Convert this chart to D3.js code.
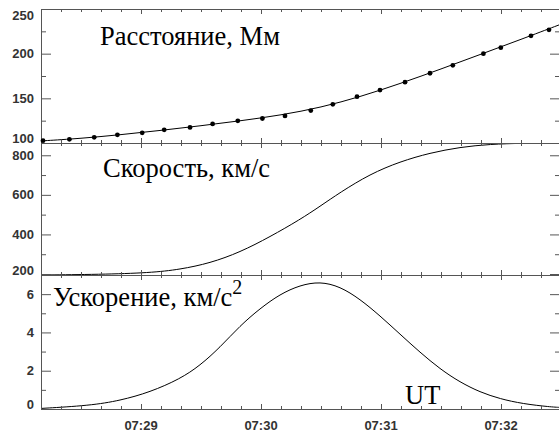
<!DOCTYPE html>
<html>
<head>
<meta charset="utf-8">
<script src="https://cdn.jsdelivr.net/npm/d3@7"></script>
<style>
  body { margin: 0; background: #fff; }
  svg { display: block; }
  .lbl { font-family: "Liberation Sans", Arial, sans-serif; font-size: 13px; font-weight: bold; fill: #333; }
  .ttl { font-family: "Liberation Serif", "Times New Roman", serif; font-size: 26.5px; fill: #000; }
</style>
</head>
<body>
<div id="grafica"></div>
<script>
  const width = 559, height = 437;

  // tiempo en segundos desde las 07:28:00 UT
  const distTimes = [11, 24.2, 36.6, 48.2, 60.6, 71.6, 84.5, 95.8, 108.4, 120.7, 132, 144.9, 155.9, 168, 179.5, 192, 204.5, 215.9, 231.2, 239.9, 255, 264];
  const distValues = [102.6, 104.1, 106.3, 109.2, 111.4, 114.8, 117.4, 121.3, 124.8, 127.4, 130.3, 136.3, 143.3, 151.9, 159.2, 168.1, 178.1, 187, 200, 206.7, 220, 226.7];

  const fitTimes = [10, 30, 50, 70, 90, 110, 130, 150, 170, 190, 210, 230, 250, 270];
  const fitValues = [102.3, 105.1, 109.3, 114.1, 119.3, 124.9, 131.2, 139.8, 152, 166.8, 182.8, 199.4, 216, 233];

  const velTimes = [10, 39.5, 64.5, 79.5, 94.5, 109.5, 124.5, 139.5, 149.5, 159.5, 174.5, 189.5, 204.5, 219.5, 234.5, 251, 270];
  const velValues = [195, 198, 206, 223, 255, 310, 388, 475, 542, 612, 705, 768, 812, 841, 856, 861, 862];

  const accTimes = [10, 34.5, 49.5, 64.5, 79.5, 89.5, 99.5, 109.5, 119.5, 129.5, 139.5, 149.5, 159.5, 169.5, 179.5, 189.5, 199.5, 209.5, 219.5, 229.5, 239.5, 251, 264.5, 270];
  const accValues = [0.03, 0.18, 0.44, 0.88, 1.57, 2.27, 3.22, 4.35, 5.25, 6.0, 6.47, 6.66, 6.4, 5.74, 4.87, 3.91, 2.96, 2.09, 1.40, 0.88, 0.53, 0.27, 0.11, 0.08];

  const distTicks = [100, 150, 200, 250], distMinor = [125, 175, 225];
  const velTicks = [200, 400, 600, 800], velMinor = [300, 500, 700];
  const accTicks = [0, 2, 4, 6], accMinor = [1, 3, 5];

  const BASE = Date.UTC(2000, 0, 1, 7, 28, 0);
  const toDate = s => new Date(BASE + s * 1000);

  const left = 41, right = 560;
  const x = d3.scaleUtc()
    .domain([toDate(10), toDate(269.5)])
    .range([left, right]);

  const svg = d3.select("#grafica")
    .append("svg")
    .attr("width", width)
    .attr("height", height);

  const axisColor = "#555";

  function panel(id, top, bottom, domain, ticks, minor, times, values, curve, showX) {
    const y = d3.scaleLinear().domain(domain).range([bottom, top]);
    const g = svg.append("g").attr("id", id);

    g.append("clipPath").attr("id", "clip-" + id)
      .append("rect")
      .attr("x", left).attr("y", top)
      .attr("width", right - left).attr("height", bottom - top);

    const line = d3.line()
      .x((d, i) => x(toDate(times[i])))
      .y(d => y(d))
      .curve(curve);

    g.append("path")
      .attr("d", line(values))
      .attr("clip-path", `url(#clip-${id})`)
      .attr("fill", "none")
      .attr("stroke", "#000")
      .attr("stroke-width", 1);

    // ejes x arriba y abajo
    const xa = [
      { t: bottom, major: -5, minor: -3 },
      { t: top, major: 5, minor: 3 }
    ];
    xa.forEach(a => {
      g.append("g")
        .attr("transform", `translate(0,${a.t})`)
        .call(d3.axisBottom(x).ticks(d3.utcSecond.every(10)).tickSize(a.minor).tickFormat(""))
        .call(s => s.select(".domain").remove())
        .call(s => s.selectAll("line").attr("stroke", axisColor));
      g.append("g")
        .attr("transform", `translate(0,${a.t})`)
        .call(d3.axisBottom(x).ticks(d3.utcMinute.every(1)).tickSize(a.major).tickFormat(""))
        .call(s => s.select(".domain").remove())
        .call(s => s.selectAll("line").attr("stroke", axisColor));
    });

    // ejes y izquierda y derecha
    [[left, 10, 5], [right, -10, -5]].forEach(([px, mj, mn]) => {
      g.append("g")
        .attr("transform", `translate(${px},0)`)
        .call(d3.axisRight(y).tickValues(ticks).tickSize(mj).tickFormat(""))
        .call(s => s.select(".domain").remove())
        .call(s => s.selectAll("line").attr("stroke", axisColor));
      g.append("g")
        .attr("transform", `translate(${px},0)`)
        .call(d3.axisRight(y).tickValues(minor).tickSize(mn).tickFormat(""))
        .call(s => s.select(".domain").remove())
        .call(s => s.selectAll("line").attr("stroke", axisColor));
    });

    // etiquetas y
    g.selectAll("text.ylab")
      .data(ticks)
      .enter()
      .append("text")
      .attr("class", "lbl ylab")
      .attr("x", 34)
      .attr("y", d => Math.max(top + 6, Math.min(bottom - 5, y(d))))
      .attr("dy", "0.35em")
      .attr("text-anchor", "end")
      .text(d => d);

    // marco
    g.append("rect")
      .attr("x", left + 0.5).attr("y", top + 0.5)
      .attr("width", right - left).attr("height", bottom - top)
      .attr("fill", "none")
      .attr("stroke", axisColor);

    if (showX) {
      g.selectAll("text.xlab")
        .data(x.ticks(d3.utcMinute.every(1)))
        .enter()
        .append("text")
        .attr("class", "lbl xlab")
        .attr("x", d => x(d))
        .attr("y", 425)
        .attr("dy", "0.35em")
        .attr("text-anchor", "middle")
        .text(d => d3.utcFormat("%H:%M")(d));
    }
    return { g, y };
  }

  // Distancia
  const p1 = panel("dist", 9, 143, [100, 250], distTicks, distMinor, fitTimes, fitValues, d3.curveBasis, false);
  p1.g.selectAll("circle")
    .data(distValues)
    .enter()
    .append("circle")
    .attr("cx", (d, i) => x(toDate(distTimes[i])))
    .attr("cy", d => p1.y(d))
    .attr("r", 2.4)
    .attr("fill", "#000");

  // Velocidad
  panel("vel", 143, 275, [195, 862], velTicks, velMinor, velTimes, velValues, d3.curveBasis, false);

  // Aceleracion
  panel("acc", 275, 409, [0, 7], accTicks, accMinor, accTimes, accValues, d3.curveBasis, true);

  // Titulos
  svg.append("text").attr("class", "ttl").attr("x", 100).attr("y", 45).text("Расстояние, Мм");
  svg.append("text").attr("class", "ttl").attr("x", 103).attr("y", 177).text("Скорость, км/с");
  const t3 = svg.append("text").attr("class", "ttl").attr("x", 53).attr("y", 306);
  t3.append("tspan").text("Ускорение, км/с");
  t3.append("tspan").attr("dy", -12).attr("font-size", 20).text("2");
  svg.append("text").attr("class", "ttl").attr("x", 405).attr("y", 404).text("UT");
</script>
</body>
</html>
